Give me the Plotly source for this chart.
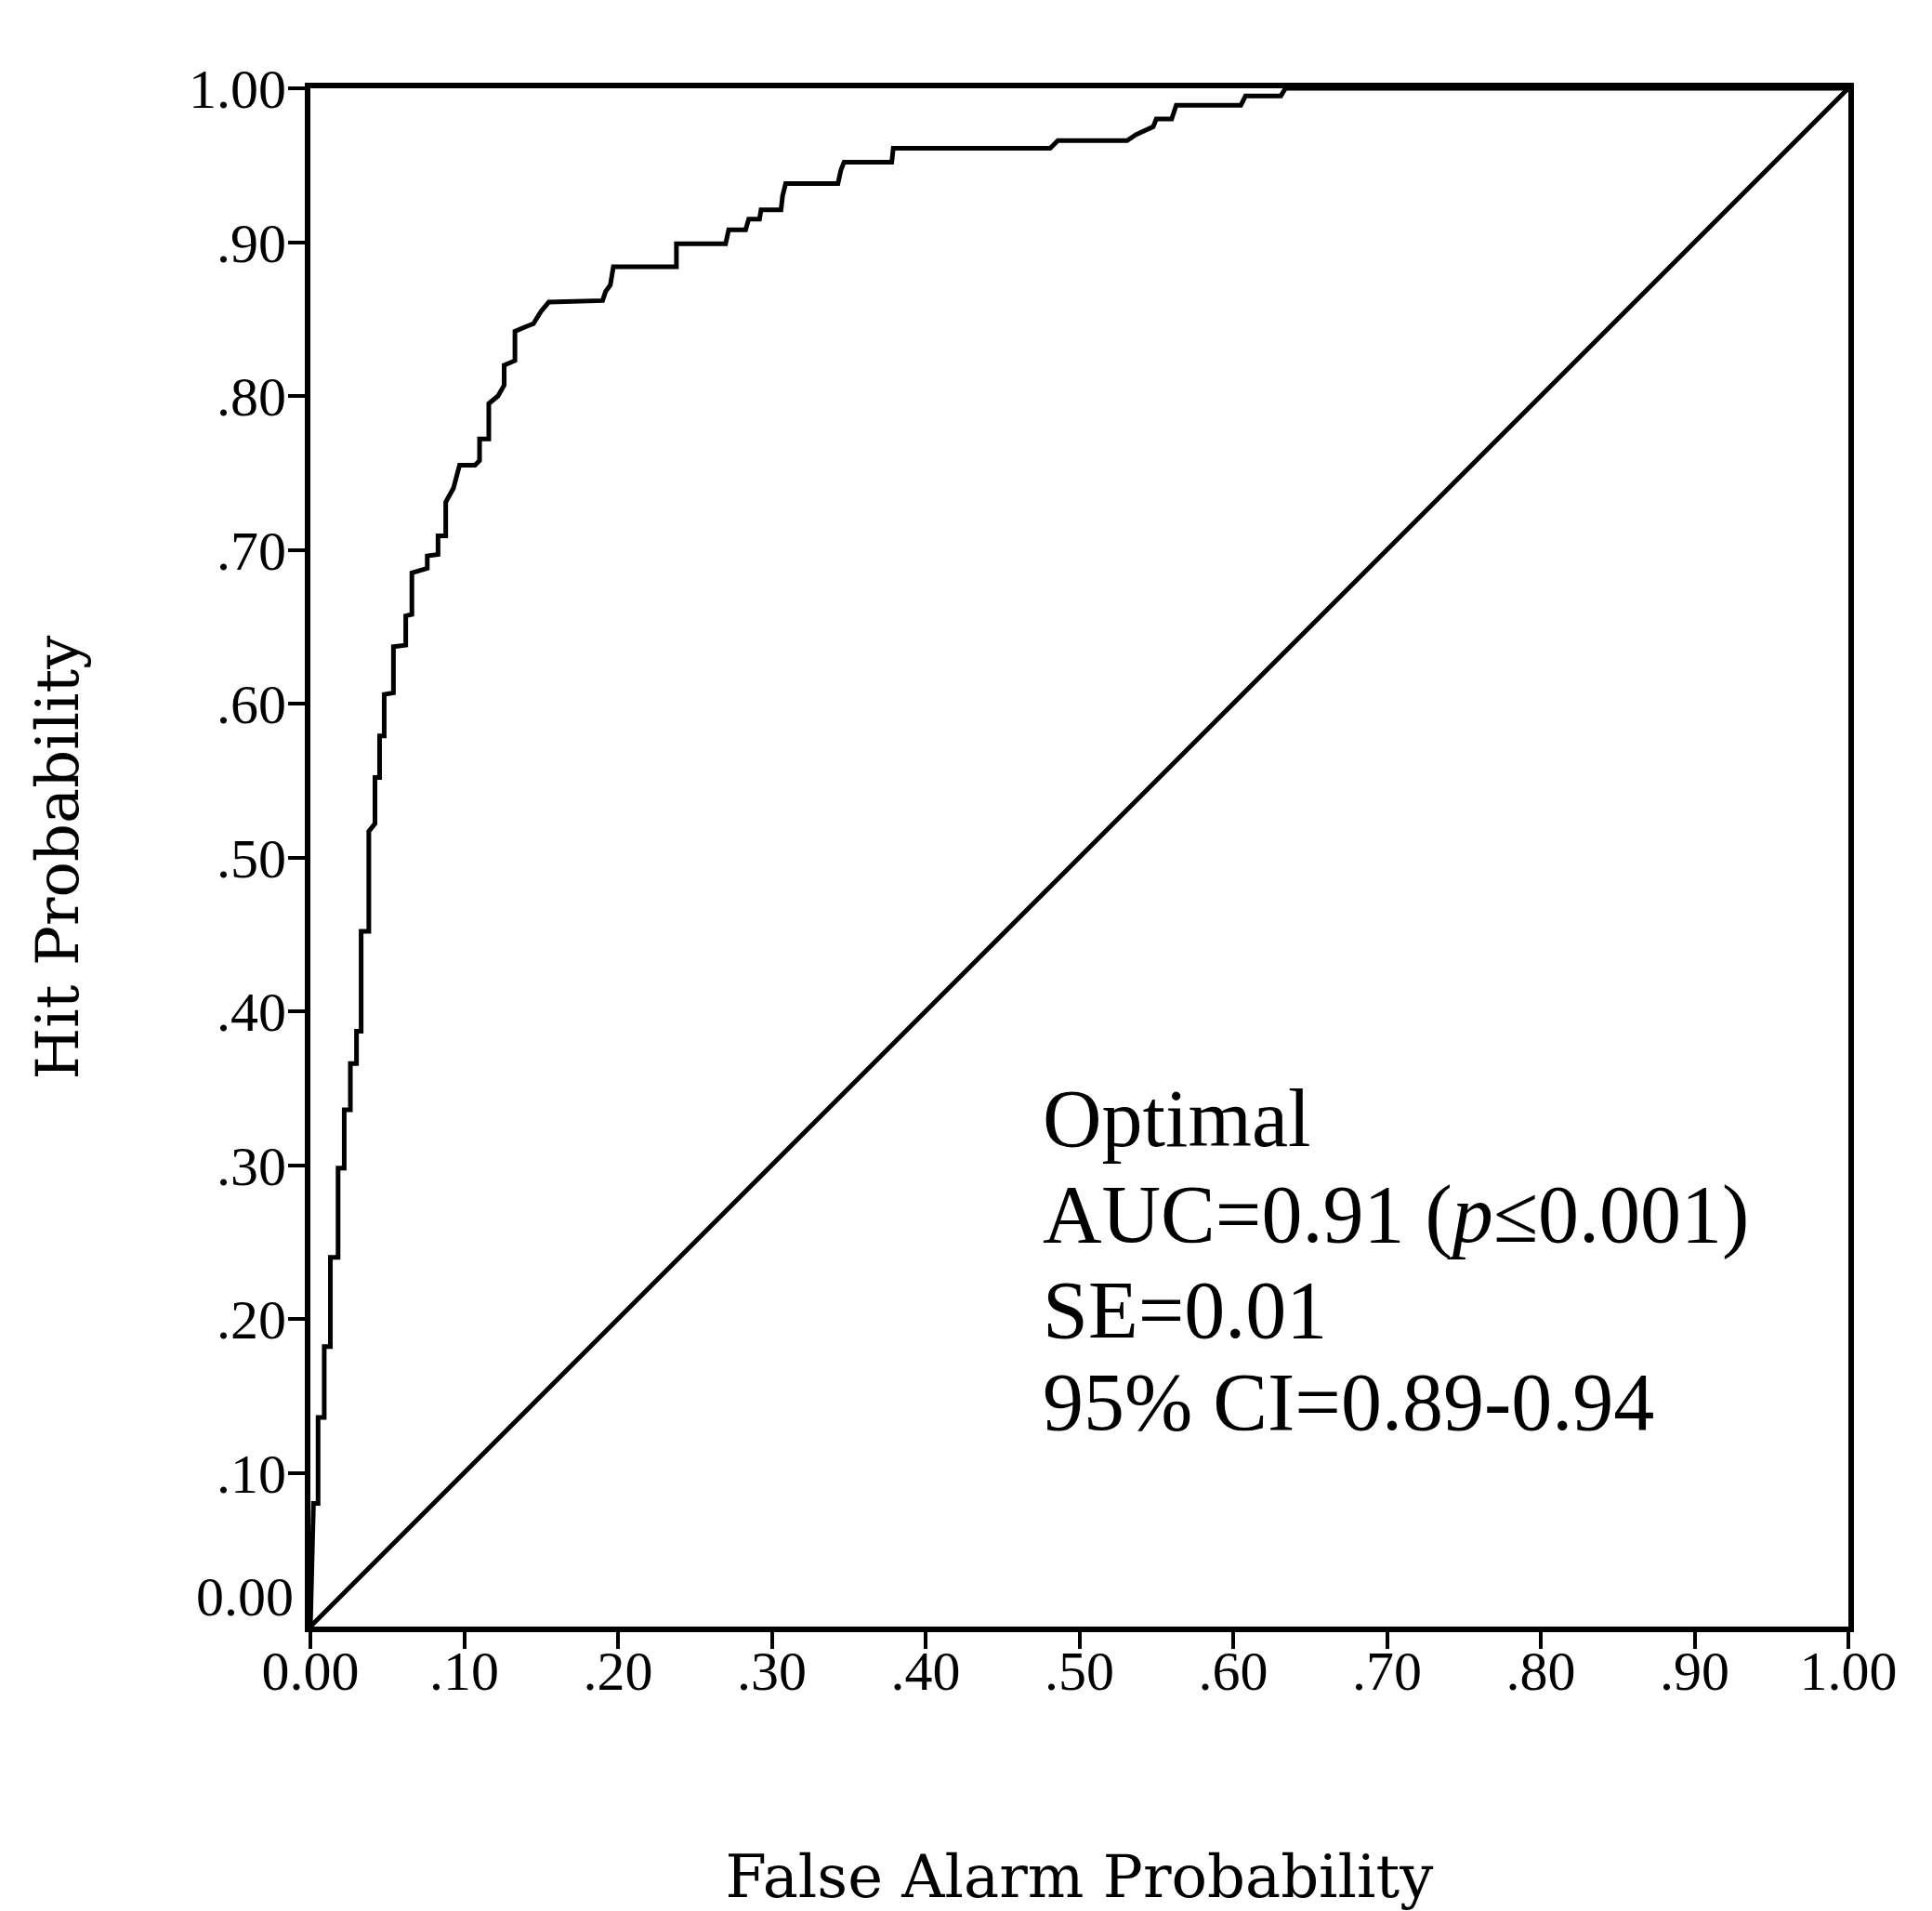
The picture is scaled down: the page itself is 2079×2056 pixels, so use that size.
import plotly.graph_objects as go

# ROC curve vertices (false alarm rate, hit rate)
fpr = [0.000, 0.002, 0.005, 0.005, 0.009, 0.009, 0.013, 0.013, 0.018, 0.018,
       0.022, 0.022, 0.026, 0.026, 0.030, 0.030, 0.033, 0.033, 0.038, 0.038,
       0.042, 0.042, 0.045, 0.045, 0.048, 0.048, 0.054, 0.054, 0.062, 0.062,
       0.066, 0.066, 0.076, 0.076, 0.083, 0.083, 0.088, 0.088, 0.093, 0.097,
       0.107, 0.110, 0.110, 0.116, 0.116, 0.122, 0.126, 0.126, 0.133, 0.133,
       0.140, 0.145, 0.150, 0.155, 0.190, 0.192, 0.195, 0.197, 0.238, 0.238,
       0.270, 0.272, 0.283, 0.285, 0.292, 0.293, 0.306, 0.307, 0.309, 0.343,
       0.345, 0.347, 0.378, 0.379, 0.481, 0.486, 0.531, 0.537, 0.548, 0.550,
       0.560, 0.563, 0.605, 0.608, 0.631, 0.634, 1.000]
tpr = [0.000, 0.080, 0.080, 0.136, 0.136, 0.182, 0.182, 0.240, 0.240, 0.298,
       0.298, 0.336, 0.336, 0.366, 0.366, 0.387, 0.387, 0.452, 0.452, 0.517,
       0.522, 0.552, 0.552, 0.579, 0.579, 0.606, 0.607, 0.637, 0.638, 0.657,
       0.658, 0.685, 0.688, 0.696, 0.697, 0.709, 0.709, 0.731, 0.740, 0.755,
       0.755, 0.758, 0.772, 0.772, 0.795, 0.800, 0.807, 0.820, 0.823, 0.842,
       0.845, 0.847, 0.855, 0.861, 0.862, 0.868, 0.872, 0.884, 0.884, 0.899,
       0.899, 0.908, 0.908, 0.915, 0.915, 0.921, 0.921, 0.930, 0.938, 0.938,
       0.947, 0.952, 0.952, 0.961, 0.961, 0.966, 0.966, 0.970, 0.975, 0.980,
       0.980, 0.989, 0.989, 0.995, 0.995, 1.000, 1.000]

# Chance line
chance = [0.0, 1.0]

tick_vals = [0.0, 0.1, 0.2, 0.3, 0.4, 0.5, 0.6, 0.7, 0.8, 0.9, 1.0]
tick_text = ["0.00", ".10", ".20", ".30", ".40", ".50", ".60", ".70", ".80", ".90", "1.00"]

stats_lines = ["Optimal", "AUC=0.91 (<i>p</i>≤0.001)", "SE=0.01", "95% CI=0.89-0.94"]
stats_y = [0.330, 0.268, 0.206, 0.146]

serif = "Liberation Serif, Times New Roman, serif"
title_font = "DejaVu Serif, serif"

fig = go.Figure()
fig.add_trace(go.Scatter(x=chance, y=chance, mode="lines",
                         line=dict(color="black", width=5), hoverinfo="skip"))
fig.add_trace(go.Scatter(x=fpr, y=tpr, mode="lines",
                         line=dict(color="black", width=5)))

axis_common = dict(
    range=[0, 1], showline=True, linewidth=6, linecolor="black", mirror=True,
    ticks="outside", ticklen=18, tickwidth=4, tickcolor="black",
    showgrid=False, zeroline=False,
    tickfont=dict(family=serif, size=60, color="black"),
)

fig.update_layout(
    width=2079, height=2056,
    margin=dict(l=334, r=90, t=95, b=306),
    paper_bgcolor="white", plot_bgcolor="white",
    showlegend=False,
    xaxis=dict(**axis_common, tickvals=tick_vals, ticktext=tick_text,
               ticklabelstandoff=-28,
               title=dict(text="False Alarm Probability",
                          font=dict(family=title_font, size=64, color="black"),
                          standoff=168)),
    yaxis=dict(**axis_common, tickvals=tick_vals[1:], ticktext=tick_text[1:],
               ticklabelstandoff=-10,
               title=dict(text="Hit Probability",
                          font=dict(family=title_font, size=64, color="black"),
                          standoff=100)),
)

# origin label on the y axis sits a little above the corner
fig.add_annotation(x=0, y=0, xref="x", yref="y", text=tick_text[0],
                   showarrow=False, xanchor="right", yanchor="middle",
                   xshift=-16, yshift=32,
                   font=dict(family=serif, size=60, color="black"))

for txt, yy in zip(stats_lines, stats_y):
    fig.add_annotation(x=0.475, y=yy, xref="x", yref="y", text=txt,
                       showarrow=False, xanchor="left", yanchor="middle",
                       font=dict(family=serif, size=88, color="black"))

fig.write_html("out.html")
